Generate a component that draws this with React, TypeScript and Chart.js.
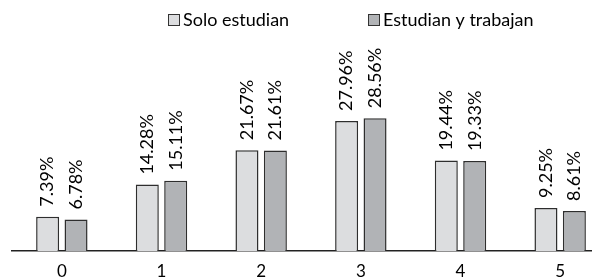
import React, { useEffect, useRef } from "react";
import { Chart, registerables } from "chart.js";

Chart.register(...registerables);

const categories = ["0", "1", "2", "3", "4", "5"];
const soloEstudian = [7.39, 14.28, 21.67, 27.96, 19.44, 9.25];
const estudianTrabajan = [6.78, 15.11, 21.61, 28.56, 19.33, 8.61];
const seriesLabels = ["Solo estudian", "Estudian y trabajan"];
const FONT = "Lato, 'DejaVu Sans', sans-serif";

const labelPlugin = {
  id: "vlabels",
  afterDatasetsDraw(chart: any) {
    const ctx = chart.ctx;
    ctx.save();
    ctx.font = `18px ${FONT}`;
    ctx.fillStyle = "#000";
    chart.data.datasets.forEach((ds: any, di: number) => {
      const meta = chart.getDatasetMeta(di);
      meta.data.forEach((el: any, i: number) => {
        const v = ds.data[i];
        ctx.save();
        ctx.translate(el.x, el.y - 10);
        ctx.rotate(-Math.PI / 2);
        ctx.textAlign = "left";
        ctx.textBaseline = "middle";
        ctx.fillText(v.toFixed(2) + "%", 0, 0);
        ctx.restore();
      });
    });
    ctx.restore();
  },
};

const legendPlugin = {
  id: "customLegend",
  afterDraw(chart: any) {
    const ctx = chart.ctx;
    const xs = [168, 368];
    ctx.save();
    ctx.font = `18px ${FONT}`;
    ctx.textBaseline = "middle";
    ctx.textAlign = "left";
    chart.data.datasets.forEach((ds: any, di: number) => {
      const x = xs[di];
      ctx.fillStyle = ds.backgroundColor;
      ctx.fillRect(x + 0.5, 14.5, 11, 11);
      ctx.strokeStyle = "#333";
      ctx.lineWidth = 1;
      ctx.strokeRect(x + 0.5, 14.5, 11, 11);
      ctx.fillStyle = "#000";
      ctx.fillText(ds.label, x + 15, 20.5);
    });
    ctx.restore();
  },
};

export default function App() {
  const ref = useRef<HTMLCanvasElement>(null);
  useEffect(() => {
    if (!ref.current) return;
    const chart = new Chart(ref.current, {
      type: "bar",
      data: {
        labels: categories,
        datasets: [
          {
            label: seriesLabels[0],
            data: soloEstudian,
            backgroundColor: "#dcdddf",
            borderColor: "#2e2e2e",
            borderWidth: 1.5,
            categoryPercentage: 0.57,
            barPercentage: 0.81,
          },
          {
            label: seriesLabels[1],
            data: estudianTrabajan,
            backgroundColor: "#b1b3b6",
            borderColor: "#2e2e2e",
            borderWidth: 1.5,
            categoryPercentage: 0.57,
            barPercentage: 0.81,
          },
        ],
      },
      options: {
        responsive: false,
        animation: false,
        layout: { padding: { left: 12, right: 0, top: 65, bottom: 0 } },
        plugins: { legend: { display: false }, tooltip: { enabled: false } },
        scales: {
          x: {
            grid: { display: false },
            border: { display: true, color: "#222", width: 1.5 },
            ticks: { color: "#000", font: { size: 17, family: FONT }, padding: 2 },
            afterFit: (s: any) => {
              s.height = 26;
            },
          },
          y: { display: false, min: 0, max: 40 },
        },
      },
      plugins: [labelPlugin, legendPlugin],
    });
    return () => chart.destroy();
  }, []);
  return (
    <div
      style={{
        position: "fixed",
        left: 0,
        top: 0,
        width: 592,
        height: 277,
        overflow: "hidden",
        background: "#fff",
      }}
    >
      <canvas ref={ref} width={610} height={277} style={{ display: "block" }} />
    </div>
  );
}
